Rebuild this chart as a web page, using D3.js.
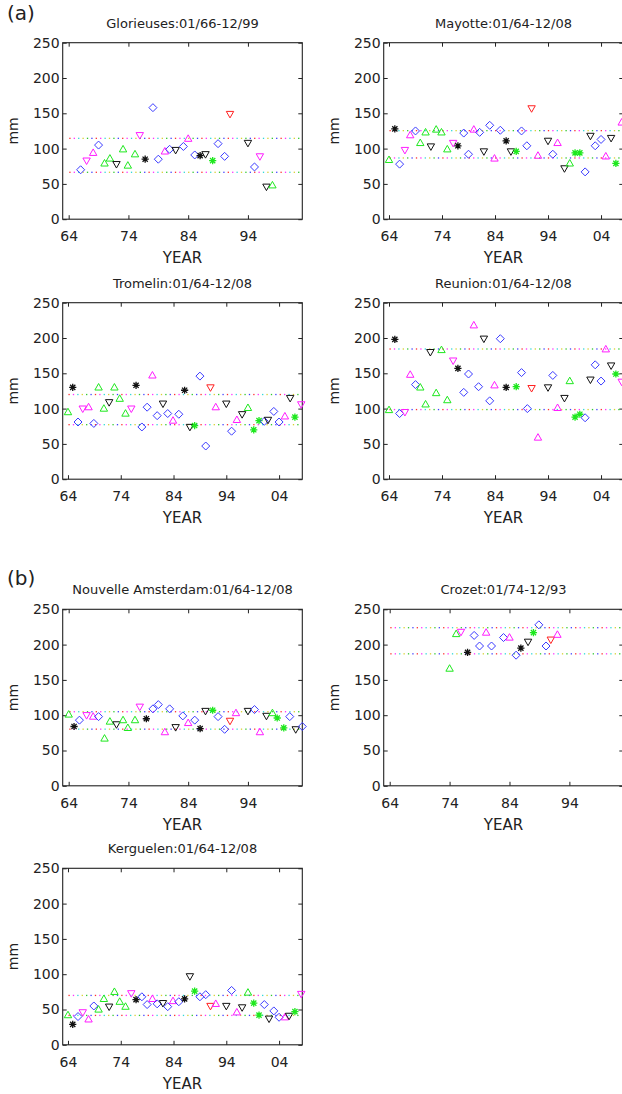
<!DOCTYPE html>
<html>
<head>
<meta charset="utf-8">
<script src="https://cdn.jsdelivr.net/npm/d3@7/dist/d3.min.js"></script>
<style>
  body { margin: 0; background: #fff; }
  svg { display: block; }
  text { font-family: "DejaVu Sans", Arial, sans-serif; fill: #222; }
</style>
</head>
<body>
<script>
/* global d3 */

// each point: [year (64 = 1964, 104 = 2004), rainfall mm, marker]
// D blue diamond, gU/mU up triangles, mV/kV/rV down triangles, k*/g* asterisks
var glorieuses = [
  [66,70,"D"],[67,83,"mV"],[68.1,94,"mU"],[69,105,"D"],[70,79,"gU"],[70.9,86,"gU"],
  [72,78,"kV"],[73.1,99,"gU"],[73.9,76,"gU"],[75.1,92,"gU"],[75.9,119,"mV"],[76.8,85,"k*"],
  [78.1,158,"D"],[79,85,"D"],[80.1,96,"mU"],[80.9,99,"D"],[81.9,98,"kV"],[83.2,103,"D"],
  [84,114,"mU"],[85.1,91,"D"],[86,90,"k*"],[86.9,92,"kV"],[88.1,83,"g*"],[89,107,"D"],
  [90.1,89,"D"],[91,149,"rV"],[94,108,"kV"],[95.1,74,"D"],[96,89,"mV"],[97.1,46,"kV"],
  [98.1,48,"gU"]
];
var mayotte = [
  [64,84,"gU"],[65.1,128,"k*"],[66,78,"D"],[67,98,"mV"],[68,119,"mU"],[69,125,"D"],
  [69.9,108,"gU"],[70.9,123,"gU"],[71.9,103,"kV"],[72.9,127,"gU"],[73.9,123,"gU"],[75,99,"gU"],
  [76.1,108,"mV"],[77,104,"k*"],[78.1,122,"D"],[79,92,"D"],[80,127,"mU"],[81.1,123,"D"],
  [81.9,96,"kV"],[83,133,"D"],[83.9,86,"mU"],[85,126,"D"],[86.1,111,"k*"],[87,96,"kV"],
  [88,96,"g*"],[89,125,"D"],[90,104,"D"],[90.9,157,"rV"],[92.1,90,"mU"],[94,111,"kV"],
  [94.9,92,"D"],[95.8,108,"mU"],[97.1,72,"kV"],[98.1,79,"gU"],[99.1,94,"g*"],[100,94,"g*"],
  [101,67,"D"],[102,118,"kV"],[102.9,104,"D"],[104,113,"D"],[104.9,89,"mU"],[105.9,115,"kV"],
  [106.8,79,"g*"],[107.9,137,"mU"]
];
var tromelin = [
  [64,95,"gU"],[64.9,130,"k*"],[65.9,81,"D"],[66.8,100,"mV"],[67.9,102,"mU"],[68.9,79,"D"],
  [69.8,130,"gU"],[70.8,100,"gU"],[71.8,109,"kV"],[72.8,130,"gU"],[73.8,114,"gU"],[74.9,93,"gU"],
  [76,100,"mV"],[76.9,133,"k*"],[78,74,"D"],[79,102,"D"],[80,147,"mU"],[80.9,90,"D"],
  [82,107,"kV"],[82.9,93,"D"],[83.9,83,"mU"],[85,92,"D"],[86.1,126,"k*"],[87.1,74,"kV"],
  [88,76,"g*"],[89,146,"D"],[90.1,47,"D"],[91,130,"rV"],[92,102,"mU"],[94,107,"kV"],
  [95,68,"D"],[96,84,"mU"],[97,92,"kV"],[98.1,101,"gU"],[99.2,70,"g*"],[100.2,83,"g*"],
  [101.2,82,"D"],[101.9,84,"kV"],[103,96,"D"],[104,81,"D"],[105.1,89,"mU"],[106.1,115,"kV"],
  [107,88,"g*"],[108.2,106,"mV"]
];
var reunion = [
  [64,98,"gU"],[65.1,198,"k*"],[66,93,"D"],[67,95,"mV"],[68,148,"mU"],[69,134,"D"],
  [69.9,130,"gU"],[70.9,106,"gU"],[71.8,180,"kV"],[72.9,122,"gU"],[73.9,183,"gU"],[75,112,"gU"],
  [76.1,168,"mV"],[77,157,"k*"],[78.1,123,"D"],[79,149,"D"],[80,218,"mU"],[80.9,131,"D"],
  [81.9,199,"kV"],[83,111,"D"],[83.9,133,"mU"],[85,199,"D"],[86.1,130,"k*"],[88,131,"g*"],
  [89,151,"D"],[90.1,100,"D"],[90.9,129,"rV"],[92.1,59,"mU"],[94,130,"kV"],[94.9,147,"D"],
  [95.8,101,"mU"],[97.1,115,"kV"],[98.1,139,"gU"],[99.1,88,"g*"],[100,92,"g*"],[101,87,"D"],
  [102,141,"kV"],[102.9,162,"D"],[104,139,"D"],[104.9,184,"mU"],[105.9,161,"kV"],[106.8,149,"g*"],
  [107.9,138,"mV"]
];
var nouvelleAmsterdam = [
  [64,101,"gU"],[64.9,84,"k*"],[65.8,93,"D"],[67,100,"mV"],[68.1,98,"mU"],[69,98,"D"],
  [70,67,"gU"],[70.9,91,"gU"],[72,87,"kV"],[73.1,93,"gU"],[73.9,82,"gU"],[75.1,93,"gU"],
  [75.9,112,"mV"],[77,95,"k*"],[78.1,109,"D"],[79,115,"D"],[80.1,76,"mU"],[80.9,109,"D"],
  [81.9,83,"kV"],[83.1,99,"D"],[84,89,"mU"],[85.1,93,"D"],[86,81,"k*"],[86.9,106,"kV"],
  [88.1,107,"g*"],[89,98,"D"],[90.1,80,"D"],[91,92,"rV"],[92,103,"mU"],[94,106,"kV"],
  [95.1,108,"D"],[96,76,"mU"],[97.1,99,"kV"],[98.1,103,"gU"],[98.9,96,"g*"],[100,82,"g*"],
  [101,98,"D"],[102,80,"kV"],[103.1,84,"D"]
];
var crozet = [
  [74,166,"gU"],[75.1,215,"gU"],[75.9,218,"mV"],[77,189,"k*"],[78.1,213,"D"],[79,198,"D"],
  [80.1,217,"mU"],[81,198,"D"],[83,210,"D"],[84,210,"mU"],[85.1,185,"D"],[85.9,195,"k*"],
  [87.1,204,"kV"],[88,217,"g*"],[88.9,228,"D"],[90.1,198,"D"],[90.9,207,"rV"],[92,214,"mU"]
];
var kerguelen = [
  [64,42,"gU"],[64.9,29,"k*"],[65.9,40,"D"],[66.8,46,"mV"],[67.9,36,"mU"],[68.9,55,"D"],
  [69.8,50,"gU"],[70.8,65,"gU"],[71.8,54,"kV"],[72.8,75,"gU"],[73.8,61,"gU"],[74.9,54,"gU"],
  [76,73,"mV"],[76.9,64,"k*"],[78,68,"D"],[79,57,"D"],[80,65,"mU"],[80.9,58,"D"],
  [82,59,"kV"],[82.9,54,"D"],[83.9,62,"mU"],[85,61,"D"],[86.1,65,"k*"],[87.1,97,"kV"],
  [88,76,"g*"],[89,68,"D"],[90.1,71,"D"],[91,55,"rV"],[92,58,"mU"],[94,55,"kV"],
  [95,77,"D"],[96,46,"mU"],[97,53,"kV"],[98.1,74,"gU"],[99.2,59,"g*"],[100.2,42,"g*"],
  [101.2,57,"D"],[102.1,37,"kV"],[103,48,"D"],[104,39,"D"],[105.1,39,"mU"],[105.9,41,"kV"],
  [107,47,"g*"],[108.2,72,"mV"]
];

// upper / lower reference levels (mm)
var glorieusesLevels = [114.6, 66.5];
var mayotteLevels = [125.5, 86.8];
var tromelinLevels = [120, 77.3];
var reunionLevels = [184.5, 98.7];
var nouvelleAmsterdamLevels = [105, 80.3];
var crozetLevels = [224, 187];
var kerguelenLevels = [70, 41.7];

var yTicks = [0, 50, 100, 150, 200, 250];
var xTicks = [64, 74, 84, 94, 104];
var xTickLabels = ["64", "74", "84", "94", "04"];

var titles = ["Glorieuses:01/66-12/99", "Mayotte:01/64-12/08", "Tromelin:01/64-12/08",
  "Reunion:01/64-12/08", "Nouvelle Amsterdam:01/64-12/08", "Crozet:01/74-12/93",
  "Kerguelen:01/64-12/08"];

var panels = [
  {title: titles[0], data: glorieuses, levels: glorieusesLevels, xmax: 103.1, col: 0, top: 42.7},
  {title: titles[1], data: mayotte, levels: mayotteLevels, xmax: 108.2, col: 1, top: 42.7},
  {title: titles[2], data: tromelin, levels: tromelinLevels, xmax: 108.4, col: 0, top: 302.7},
  {title: titles[3], data: reunion, levels: reunionLevels, xmax: 108.2, col: 1, top: 302.7},
  {title: titles[4], data: nouvelleAmsterdam, levels: nouvelleAmsterdamLevels, xmax: 103.1, col: 0, top: 609.3},
  {title: titles[5], data: crozet, levels: crozetLevels, xmax: 103, col: 1, top: 609.3},
  {title: titles[6], data: kerguelen, levels: kerguelenLevels, xmax: 108.4, col: 0, top: 868.3}
];

var W = 622, H = 1094,
    colLeft = [62.7, 383.7],
    plotW = 239.6,
    plotH = 176.5;

var markColor = {D: "#3a3aff", gU: "#1ee81e", mU: "#ff1cff", mV: "#ff1cff",
  kV: "#111", rV: "#ff2020", "k*": "#111", "g*": "#1ee81e"};
var markPath = {
  D: "M0,-4L4,0L0,4L-4,0Z",
  U: "M0,-3.9L3.7,2.6L-3.7,2.6Z",
  V: "M0,3.9L3.7,-2.6L-3.7,-2.6Z",
  "*": "M-3.6,0H3.6M0,-3.6V3.6M-2.6,-2.6L2.6,2.6M-2.6,2.6L2.6,-2.6"
};
var dotColors = ["#ff3030", "#ff30ff", "#30d8d8", "#d8d030", "#30c830", "#4040ff"];

var svg = d3.select("body").append("svg")
    .attr("width", W)
    .attr("height", H)
    .attr("viewBox", "0 0 " + W + " " + H);

svg.append("text").attr("x", 7).attr("y", 20).style("font-size", "20px").text("(a)");
svg.append("text").attr("x", 7).attr("y", 585).style("font-size", "20px").text("(b)");

panels.forEach(function(p) {
  var x = d3.scaleLinear().domain([63, p.xmax]).range([0, plotW]);
  var y = d3.scaleLinear().domain([0, 250]).range([plotH, 0]);

  var g = svg.append("g")
      .attr("transform", "translate(" + colLeft[p.col] + "," + p.top + ")");

  var ticksIn = xTicks.filter(function(t) { return t <= p.xmax; });

  // axes, ticks pointing inwards on all four sides
  var bottom = g.append("g").attr("transform", "translate(0," + plotH + ")")
      .call(d3.axisBottom(x).tickValues(ticksIn)
        .tickFormat(function(d) { return xTickLabels[xTicks.indexOf(d)]; })
        .tickSizeInner(-4).tickSizeOuter(0).tickPadding(12));
  var left = g.append("g")
      .call(d3.axisLeft(y).tickValues(yTicks).tickSizeInner(-4).tickSizeOuter(0).tickPadding(3));
  g.append("g").call(d3.axisTop(x).tickValues(ticksIn).tickFormat("").tickSizeInner(-4).tickSizeOuter(0));
  g.append("g").attr("transform", "translate(" + plotW + ",0)")
      .call(d3.axisRight(y).tickValues(yTicks).tickFormat("").tickSizeInner(-4).tickSizeOuter(0));

  g.selectAll(".domain").remove();
  g.selectAll(".tick line").attr("stroke", "#222");
  g.selectAll(".tick text").style("font-size", "14px").attr("fill", "#222")
      .style("font-family", "'DejaVu Sans', Arial, sans-serif");

  g.append("rect")
      .attr("width", plotW).attr("height", plotH)
      .attr("fill", "none").attr("stroke", "#222").attr("stroke-width", 1.1);

  // multicolour dotted reference levels
  var dotsX = d3.range(x(64.2), x(p.xmax - 0.5), 4.4);
  p.levels.forEach(function(lv) {
    g.selectAll(null)
        .data(dotsX)
        .enter()
        .append("rect")
        .attr("x", function(d) { return d - 0.6; })
        .attr("y", y(lv) - 0.6)
        .attr("width", 1.3).attr("height", 1.3)
        .attr("fill", function(d, i) { return dotColors[i % dotColors.length]; });
  });

  // markers
  g.selectAll(".mark")
      .data(p.data)
      .enter()
      .append("path")
      .attr("class", "mark")
      .attr("transform", function(d) { return "translate(" + x(d[0]) + "," + y(d[1]) + ")"; })
      .attr("d", function(d) { return markPath[d[2] === "D" ? "D" : d[2].charAt(1)]; })
      .attr("fill", "none")
      .attr("stroke", function(d) { return markColor[d[2]]; })
      .attr("stroke-width", function(d) { return d[2].charAt(1) === "*" ? 1.3 : 1; });

  g.append("text")
      .attr("x", plotW / 2).attr("y", -15)
      .attr("text-anchor", "middle")
      .style("font-size", "13px")
      .text(p.title);

  g.append("text")
      .attr("x", plotW / 2).attr("y", plotH + 44)
      .attr("text-anchor", "middle")
      .style("font-size", "15px")
      .text("YEAR");

  g.append("text")
      .attr("transform", "translate(-45," + (plotH / 2) + ") rotate(-90)")
      .attr("text-anchor", "middle")
      .style("font-size", "14px")
      .text("mm");
});
</script>
</body>
</html>
